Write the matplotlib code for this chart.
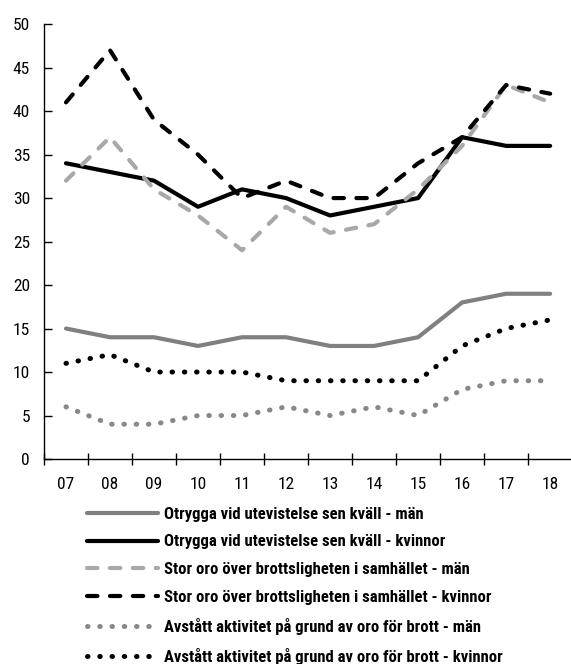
import matplotlib
matplotlib.use("Agg")
import matplotlib.pyplot as plt

plt.rcParams['font.family'] = ['Roboto Condensed', 'DejaVu Sans']

years = ['07', '08', '09', '10', '11', '12', '13', '14', '15', '16', '17', '18']

otrygga_man = [15, 14, 14, 13, 14, 14, 13, 13, 14, 18, 19, 19]
otrygga_kvinnor = [34, 33, 32, 29, 31, 30, 28, 29, 30, 37, 36, 36]
oro_man = [32, 37, 31, 28, 24, 29, 26, 27, 31, 36, 43, 41]
oro_kvinnor = [41, 47, 39, 35, 30, 32, 30, 30, 34, 37, 43, 42]
avstatt_man = [6, 4, 4, 5, 5, 6, 5, 6, 5, 8, 9, 9]
avstatt_kvinnor = [11, 12, 10, 10, 10, 9, 9, 9, 9, 13, 15, 16]

labels = ['Otrygga vid utevistelse sen kväll - män',
          'Otrygga vid utevistelse sen kväll - kvinnor',
          'Stor oro över brottsligheten i samhället - män',
          'Stor oro över brottsligheten i samhället - kvinnor',
          'Avstått aktivitet på grund av oro för brott - män',
          'Avstått aktivitet på grund av oro för brott - kvinnor']

fig = plt.figure(figsize=(5.71, 6.64), dpi=100)
ax = fig.add_axes([0.077, 0.3087, 0.925, 0.655])

x = list(range(len(years)))
lw = 3
dash = (2.5, 3)
# dotted lines: a bit heavier so the dots read like the original
lw_dot = 3.6
dot = (0.1, 2.35)

ax.plot(x, otrygga_man, color='#808080', lw=lw, solid_capstyle='round', label=labels[0])
ax.plot(x, otrygga_kvinnor, color='black', lw=lw, solid_capstyle='round', label=labels[1])
ax.plot(x, oro_man, color='#a8a8a8', lw=lw, dashes=dash, dash_capstyle='round', label=labels[2])
ax.plot(x, oro_kvinnor, color='black', lw=lw, dashes=dash, dash_capstyle='round', label=labels[3])
ax.plot(x, avstatt_man, color='#888888', lw=lw_dot, dashes=dot, dash_capstyle='round', label=labels[4])
ax.plot(x, avstatt_kvinnor, color='black', lw=lw_dot, dashes=dot, dash_capstyle='round', label=labels[5])

ax.set_xlim(-0.5, 11.5)
ax.set_ylim(0, 50)
ax.set_yticks(range(0, 51, 5))
ax.set_xticks([i - 0.5 for i in range(13)])
ax.set_xticklabels([])
ax.set_xticks(x, minor=True)
ax.set_xticklabels(years, minor=True)
ax.tick_params(axis='x', which='minor', length=0, labelsize=12.5, pad=13)
ax.tick_params(axis='x', which='major', direction='inout', length=9, width=1)
ax.tick_params(axis='y', direction='in', length=6, width=1, labelsize=12.5, pad=10)
for s in ['top', 'right']:
    ax.spines[s].set_visible(False)
ax.spines['left'].set_linewidth(1)
ax.spines['bottom'].set_linewidth(1)

h, l = ax.get_legend_handles_labels()
fig.legend(h, l, loc='upper left', bbox_to_anchor=(0.152, 0.237), frameon=False,
           handlelength=4.3, handletextpad=0.35, labelspacing=0.77,
           prop={'size': 12, 'weight': 'bold'}, borderaxespad=0, borderpad=0)

fig.savefig('out.png', dpi=100)
